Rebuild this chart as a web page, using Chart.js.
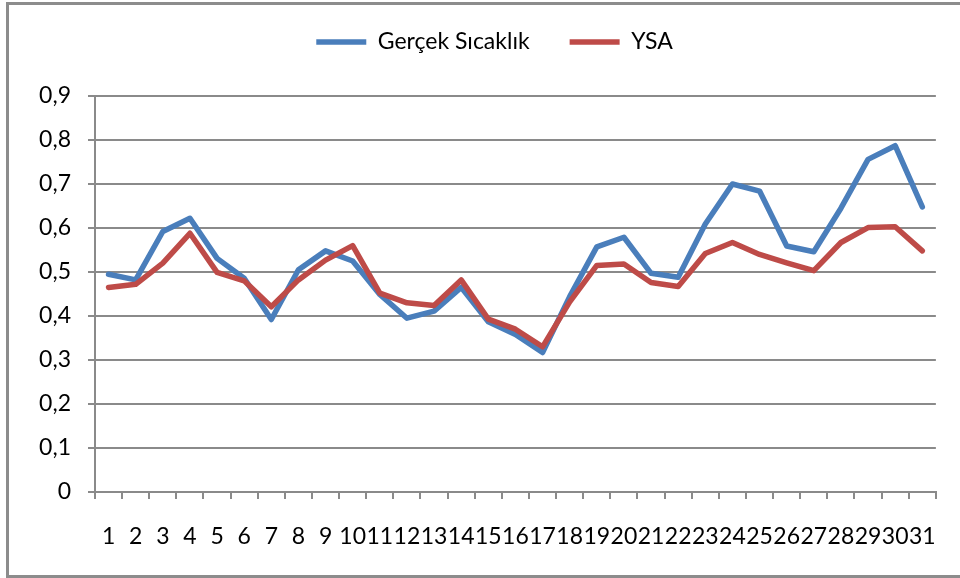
<!DOCTYPE html>
<html>
<head>
<meta charset="utf-8">
<script src="https://cdn.jsdelivr.net/npm/chart.js@4.4.1/dist/chart.umd.min.js"></script>
<style>
  html, body { margin: 0; padding: 0; background: #fff; overflow: hidden; }
  #frame {
    position: absolute; left: 6px; top: 2px;
    width: 951px; height: 570px;
    border: 3px solid #8c8c8c; border-right: none;
  }
  #chart { position: absolute; left: 0; top: 0; }
</style>
</head>
<body>
<div id="frame"></div>
<canvas id="chart" width="960" height="578"></canvas>
<script>
// Days of the month
const days = ['1','2','3','4','5','6','7','8','9','10','11','12','13','14','15','16',
              '17','18','19','20','21','22','23','24','25','26','27','28','29','30','31'];

// Measured (normalised) temperature
const actualTemp = [0.495, 0.482, 0.592, 0.622, 0.531, 0.486, 0.392, 0.505, 0.548, 0.525,
                    0.449, 0.395, 0.411, 0.465, 0.387, 0.358, 0.317, 0.444, 0.557, 0.579,
                    0.497, 0.488, 0.609, 0.700, 0.684, 0.559, 0.546, 0.645, 0.756, 0.787, 0.648];

// Neural network (YSA) prediction
const annPrediction = [0.465, 0.472, 0.520, 0.588, 0.499, 0.480, 0.421, 0.482, 0.527, 0.560,
                       0.452, 0.430, 0.424, 0.482, 0.393, 0.370, 0.330, 0.432, 0.515, 0.518,
                       0.476, 0.467, 0.542, 0.567, 0.540, 0.521, 0.503, 0.567, 0.601, 0.603, 0.548];

// Value axis labels (decimal comma)
const yTickLabels = ['0', '0,1', '0,2', '0,3', '0,4', '0,5', '0,6', '0,7', '0,8', '0,9'];

const seriesNames = ['Gerçek Sıcaklık', 'YSA'];
const BLUE = '#4a7ebb';
const RED = '#be4b48';
const GRID = '#8a8a8a';
const FONT = { family: 'Lato', size: 23 };

// Legend: fixed 96px band above the plot, items nudged right/up within it
const legendBand = {
  id: 'legendBand',
  beforeLayout(chart) {
    const lg = chart.legend;
    if (lg && !lg._bandFit) {
      const fit = lg.fit.bind(lg);
      lg.fit = function () { fit(); this.height = 96; };
      lg._bandFit = true;
    }
  },
  afterLayout(chart) {
    const lg = chart.legend;
    if (!lg) return;
    lg.left += 25.5;
    lg.right += 25.5;
    lg.top -= 9.5;
  }
};

new Chart(document.getElementById('chart'), {
  type: 'line',
  data: {
    labels: days,
    datasets: [
      {
        label: seriesNames[0],
        data: actualTemp,
        borderColor: BLUE,
        backgroundColor: BLUE,
        borderWidth: 5.5,
        borderCapStyle: 'round',
        borderJoinStyle: 'round',
        pointRadius: 0,
        tension: 0,
        order: 2
      },
      {
        label: seriesNames[1],
        data: annPrediction,
        borderColor: RED,
        backgroundColor: RED,
        borderWidth: 5.5,
        borderCapStyle: 'round',
        borderJoinStyle: 'round',
        pointRadius: 0,
        tension: 0,
        order: 1
      }
    ]
  },
  options: {
    responsive: false,
    animation: false,
    devicePixelRatio: 1,
    layout: { padding: { left: 0, right: 22, top: 0, bottom: 0 } },
    plugins: {
      tooltip: { enabled: false },
      legend: {
        position: 'top',
        labels: {
          font: FONT,
          color: '#000',
          usePointStyle: true,
          pointStyle: 'line',
          pointStyleWidth: 50,
          padding: 40,
          sort: (a, b) => a.datasetIndex - b.datasetIndex
        }
      }
    },
    scales: {
      x: {
        type: 'category',
        offset: true,
        afterFit(scale) { scale.height = 86; },
        grid: {
          offset: true,
          drawOnChartArea: false,
          drawTicks: true,
          tickLength: 7,
          color: GRID,
          lineWidth: 2
        },
        border: { display: true, color: GRID, width: 2 },
        ticks: {
          font: FONT,
          color: '#000',
          autoSkip: false,
          maxRotation: 0,
          minRotation: 0,
          padding: 24
        }
      },
      y: {
        min: 0,
        max: 0.9,
        afterFit(scale) { scale.width = 95; },
        grid: {
          drawTicks: true,
          tickLength: 7,
          color: GRID,
          lineWidth: 2
        },
        border: { display: true, color: GRID, width: 2 },
        ticks: {
          stepSize: 0.1,
          font: FONT,
          color: '#000',
          padding: 17,
          callback: (value, index) => yTickLabels[index]
        }
      }
    }
  },
  plugins: [legendBand]
});
</script>
</body>
</html>
